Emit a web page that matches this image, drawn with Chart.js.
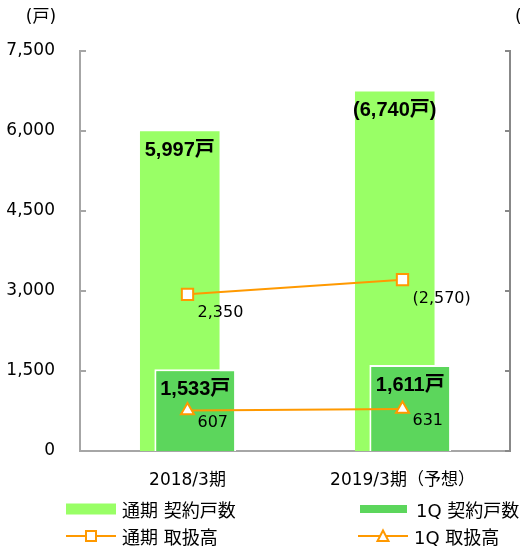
<!DOCTYPE html>
<html>
<head>
<meta charset="utf-8">
<script src="https://cdn.jsdelivr.net/npm/chart.js@4.4.1/dist/chart.umd.min.js"></script>
<style>
  html, body { margin: 0; padding: 0; background: #fff; overflow: hidden; }
  #wrap { position: relative; width: 520px; height: 546px; }
  #legend { position: absolute; left: 0; top: 0; width: 520px; height: 546px; pointer-events: none;
            font: 18px "DejaVu Sans", "Noto Sans CJK JP", sans-serif; color: #000; }
  .item { position: absolute; display: flex; align-items: center; height: 24px; white-space: nowrap; }
  .item svg { display: block; margin-right: 6px; }
</style>
</head>
<body>
<div id="wrap">
  <canvas id="chart" width="520" height="546"></canvas>
  <div id="legend"></div>
</div>
<script>
  // data
  const categories = ['2018/3期', '2019/3期（予想）'];
  const seriesNames = ['通期 契約戸数', '1Q 契約戸数', '通期 取扱高', '1Q 取扱高'];
  const fullContracts = [5997, 6740];
  const q1Contracts = [1533, 1611];
  const fullVolume = [2350, 2570];
  const q1Volume = [607, 631];
  const forecast = [false, true];
  const leftTicks = [0, 1500, 3000, 4500, 6000, 7500];
  const rightTicks = [0, 1200, 2400, 3600, 4800, 6000];
  const leftUnit = '(戸)';
  const rightUnit = '(百万円)';

  const LIGHT = '#99FF66';
  const DARK = '#5CD65C';
  const ORANGE = '#FF9900';
  const AXIS = '#A6A6A6';
  const FONT = '"DejaVu Sans", "Noto Sans CJK JP", sans-serif';
  const BOLD = '"Liberation Sans", "Noto Sans CJK JP", sans-serif';

  const fmt = v => v.toLocaleString('en-US');

  // light bars drawn first, 1Q bars over them, lines on top
  const orderPlugin = {
    id: 'order',
    beforeDatasetDraw(chart, args) {
      if (args.index === 3) return false;
      if (args.index === 1) chart.getDatasetMeta(3).controller.draw();
    }
  };

  const decoPlugin = {
    id: 'deco',
    afterDatasetsDraw(chart) {
      const ctx = chart.ctx;
      ctx.save();
      ctx.fillStyle = '#000';
      ctx.textBaseline = 'middle';

      ctx.font = 'bold 20px ' + BOLD;
      ctx.textAlign = 'center';
      chart.getDatasetMeta(2).data.forEach((bar, i) => {
        const t = fmt(fullContracts[i]) + '戸';
        ctx.fillText(forecast[i] ? '(' + t + ')' : t, bar.x, bar.y + 19);
      });
      chart.getDatasetMeta(3).data.forEach((bar, i) => {
        ctx.fillText(fmt(q1Contracts[i]) + '戸', bar.x, bar.y + 20);
      });

      ctx.font = '16px ' + FONT;
      ctx.textAlign = 'left';
      chart.getDatasetMeta(0).data.forEach((pt, i) => {
        const t = fmt(fullVolume[i]);
        ctx.fillText(forecast[i] ? '(' + t + ')' : t, pt.x + 10, pt.y + 19);
      });
      chart.getDatasetMeta(1).data.forEach((pt, i) => {
        ctx.fillText(fmt(q1Volume[i]), pt.x + 10, pt.y + 12);
      });
      ctx.restore();
    },
    afterDraw(chart) {
      const ctx = chart.ctx;
      const area = chart.chartArea;
      const y = chart.scales.y, y1 = chart.scales.y1;
      ctx.save();
      ctx.lineWidth = 2;
      ctx.strokeStyle = AXIS;
      ctx.beginPath();
      y.ticks.forEach(t => {
        const py = Math.round(y.getPixelForValue(t.value));
        ctx.moveTo(area.left, py); ctx.lineTo(area.left + 6, py);
      });
      ctx.stroke();
      ctx.strokeStyle = '#888';
      ctx.beginPath();
      y1.ticks.forEach(t => {
        const py = Math.round(y1.getPixelForValue(t.value));
        ctx.moveTo(area.right - 5, py); ctx.lineTo(area.right, py);
      });
      ctx.stroke();

      ctx.fillStyle = '#000';
      ctx.font = '17px ' + FONT;
      ctx.textBaseline = 'middle';
      ctx.textAlign = 'center';
      ctx.fillText(leftUnit, 41, 18);
      ctx.textAlign = 'left';
      ctx.fillText(rightUnit, 515, 18);
      ctx.restore();
    }
  };

  new Chart(document.getElementById('chart'), {
    type: 'bar',
    data: {
      labels: categories,
      datasets: [
        {
          type: 'line', label: seriesNames[2], data: fullVolume, yAxisID: 'y1',
          borderColor: ORANGE, borderWidth: 2, tension: 0,
          pointStyle: 'rect', pointRadius: 8, pointBackgroundColor: '#fff',
          pointBorderColor: ORANGE, pointBorderWidth: 2
        },
        {
          type: 'line', label: seriesNames[3], data: q1Volume, yAxisID: 'y1',
          borderColor: ORANGE, borderWidth: 2, tension: 0,
          pointStyle: 'triangle', pointRadius: 7.5, pointBackgroundColor: '#fff',
          pointBorderColor: ORANGE, pointBorderWidth: 2
        },
        {
          label: seriesNames[0], data: fullContracts, yAxisID: 'y',
          backgroundColor: LIGHT, categoryPercentage: 0.144, barPercentage: 5.14
        },
        {
          label: seriesNames[1], data: q1Contracts, yAxisID: 'y',
          backgroundColor: DARK, borderColor: '#fff', borderWidth: 2,
          categoryPercentage: 0.144, barPercentage: 5.28
        }
      ]
    },
    options: {
      responsive: false,
      animation: false,
      layout: { padding: { top: 51, bottom: 55, left: 0, right: 0 } },
      plugins: { legend: { display: false }, tooltip: { enabled: false } },
      scales: {
        x: {
          grid: { display: false, drawTicks: false },
          border: { color: AXIS, width: 2 },
          ticks: { color: '#000', padding: 19, font: { size: 17, family: FONT } },
          afterFit: s => { s.height = 40; }
        },
        y: {
          position: 'left',
          min: leftTicks[0], max: leftTicks[leftTicks.length - 1],
          grid: { display: false, drawTicks: false },
          border: { color: AXIS, width: 2 },
          ticks: {
            stepSize: leftTicks[1] - leftTicks[0], color: '#000', padding: 25,
            font: { size: 17, family: FONT }, callback: v => fmt(v)
          },
          afterFit: s => { s.width = 80; }
        },
        y1: {
          position: 'right',
          min: rightTicks[0], max: rightTicks[rightTicks.length - 1],
          grid: { display: false, drawTicks: false },
          border: { color: '#888', width: 2 },
          ticks: { display: false, stepSize: rightTicks[1] - rightTicks[0] },
          afterFit: s => { s.width = 9; }
        }
      }
    },
    plugins: [orderPlugin, decoPlugin]
  });

  // legend, two columns
  const legendItems = [
    { name: seriesNames[0], kind: 'bar', color: LIGHT, h: 11, w: 50, x: 66, y: 509 },
    { name: seriesNames[1], kind: 'bar', color: DARK, h: 8, w: 47, x: 360, y: 509 },
    { name: seriesNames[2], kind: 'rect', x: 66, y: 536 },
    { name: seriesNames[3], kind: 'tri', x: 358, y: 536 }
  ];
  const legend = document.getElementById('legend');
  legendItems.forEach(it => {
    let svg;
    if (it.kind === 'bar') {
      svg = `<svg width="50" height="24"><rect x="0" y="${12 - it.h / 2}" width="${it.w}" height="${it.h}" fill="${it.color}"/></svg>`;
    } else {
      const mark = it.kind === 'rect'
        ? `<rect x="20" y="7" width="10" height="10" fill="#fff" stroke="${ORANGE}" stroke-width="2"/>`
        : `<polygon points="25,6.5 30.5,17 19.5,17" fill="#fff" stroke="${ORANGE}" stroke-width="2"/>`;
      svg = `<svg width="50" height="24"><line x1="0" y1="12" x2="50" y2="12" stroke="${ORANGE}" stroke-width="2"/>${mark}</svg>`;
    }
    const d = document.createElement('div');
    d.className = 'item';
    d.style.left = it.x + 'px';
    d.style.top = (it.y - 12) + 'px';
    d.innerHTML = svg + '<span>' + it.name + '</span>';
    legend.appendChild(d);
  });
</script>
</body>
</html>
